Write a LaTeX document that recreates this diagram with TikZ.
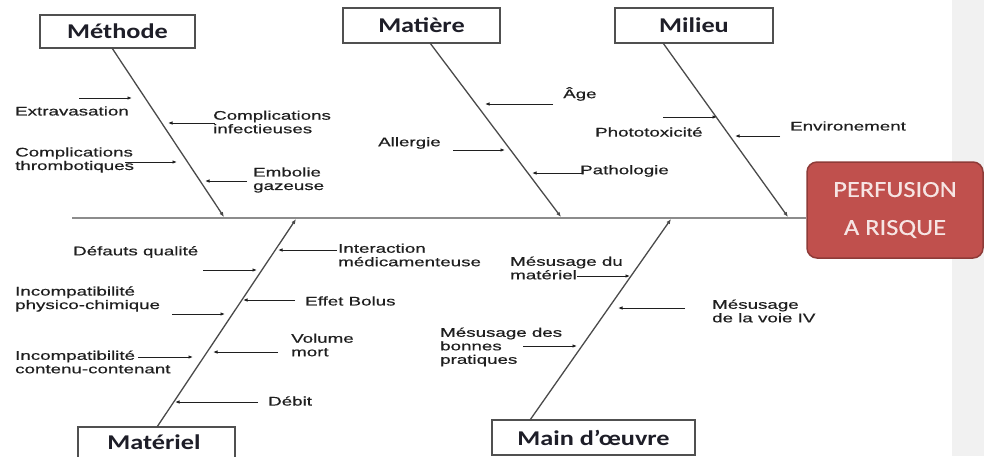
\documentclass[tikz,border=0pt]{standalone}
\usepackage{fontspec}
\usetikzlibrary{arrows.meta}
\newfontfamily\labf[FakeStretch=1.50,FakeBold=0.5]{Liberation Sans}
\newfontfamily\catf[FakeStretch=1.25]{Carlito}
\newfontfamily\redf[FakeStretch=1.15,FakeBold=0.4]{Carlito}
\definecolor{labc}{HTML}{1F1F1F}
\definecolor{boxc}{HTML}{505050}
\definecolor{catc}{HTML}{1E1E28}
\definecolor{branchc}{HTML}{4A4A4A}
\definecolor{spinec}{HTML}{8C8C8C}
\definecolor{bandc}{HTML}{F1F1F1}
\definecolor{redfill}{HTML}{C0504D}
\definecolor{redline}{HTML}{8E3B38}
\definecolor{redtext}{HTML}{F6E4E3}
\begin{document}
\begin{tikzpicture}[x=1pt,y=-1pt,
  lab/.style={font=\labf\fontsize{12.5}{13.5}\selectfont, align=left, anchor=west, inner sep=0pt, text=labc},
  cat/.style={draw=boxc, line width=1.5pt, fill=white, text=catc, font=\catf\bfseries\fontsize{21}{24}\selectfont, inner sep=0pt},
  branch/.style={draw=branchc, line width=1.3pt, -{Latex[length=5pt,width=4pt]}},
  spine/.style={draw=spinec, line width=2pt},
  sub/.style={draw=labc, line width=0.9pt, -{Latex[length=4.5pt,width=3.5pt]}}
]
\useasboundingbox (0,0) rectangle (984,456);
\clip (0,0) rectangle (984,456);
\fill[bandc] (952,0) rectangle (984,456);

% category boxes
\node[cat, minimum width=155pt, minimum height=33pt] (meth) at (117.5,31.5) {Méthode};
\node[cat, minimum width=157pt, minimum height=35pt] (mati) at (421.5,25.5) {Matière};
\node[cat, minimum width=158pt, minimum height=35pt] (mili) at (694,25.5) {Milieu};
\node[cat, minimum width=157pt, minimum height=38pt, text height=13pt, text depth=0pt,
      yshift=0pt] (mate) at (156.5,446) {};
\node[text=catc, font=\catf\bfseries\fontsize{21}{24}\selectfont, inner sep=0pt] (matet) at (154,442) {Matériel};
\node[cat, minimum width=203pt, minimum height=35pt] (main) at (593.5,437.5) {Main d’œuvre};

% effect box
\node[draw=redline, fill=redfill, line width=1.5pt, rounded corners=10pt,
      minimum width=176pt, minimum height=96pt, text=redtext, align=center,
      font=\redf\fontsize{23}{38}\selectfont] (eff) at (895,210) {PERFUSION\\A RISQUE};

% spine
\coordinate (spstart) at (72,218);
\draw[spine] (spstart) -- (spstart -| eff.west);

% branch end points
\coordinate (mthtop) at (112,48);   \coordinate (mthend) at (224,217);
\coordinate (mattop) at (430,43);   \coordinate (matend) at (561,217);
\coordinate (miltop) at (663,43);   \coordinate (milend) at (788,217);
\coordinate (mtlbot) at (157,427);  \coordinate (mtlend) at (296,219);
\coordinate (mobot) at (530,420);   \coordinate (moend) at (671,219);
\draw[branch] (mthtop) -- (mthend);
\draw[branch] (mattop) -- (matend);
\draw[branch] (miltop) -- (milend);
\draw[branch] (mtlbot) -- (mtlend);
\draw[branch] (mobot) -- (moend);

% labels
\node[lab] (extra) at (15,111) {Extravasation};
\node[lab] (infec) at (213,122) {Complications\\infectieuses};
\node[lab] (throm) at (15,160) {Complications\\thrombotiques};
\node[lab] (embol) at (253,180) {Embolie\\gazeuse};
\node[lab] (age) at (563,94) {Âge};
\node[lab] (aller) at (378,143) {Allergie};
\node[lab] (patho) at (580,171) {Pathologie};
\node[lab] (photo) at (595,132) {Phototoxicité};
\node[lab] (envir) at (790,126) {Environement};
\node[lab] (defau) at (73,252) {Défauts qualité};
\node[lab] (inter) at (338,255) {Interaction\\médicamenteuse};
\node[lab] (physi) at (15,299) {Incompatibilité\\physico-chimique};
\node[lab] (bolus) at (305,301) {Effet Bolus};
\node[lab] (volum) at (291,345) {Volume\\mort};
\node[lab] (conte) at (15,362) {Incompatibilité\\contenu-contenant};
\node[lab] (debit) at (268,401) {Débit};
\node[lab] (mesma) at (510,268) {Mésusage du\\matériel};
\node[lab] (voie) at (712,311) {Mésusage\\de la voie IV};
\node[lab] (bonne) at (440,347) {Mésusage des\\bonnes\\pratiques};

% sub-cause arrows
\coordinate (a1s) at (79,98);   \coordinate (a1e) at (132,98);
\coordinate (a2s) at (215,123); \coordinate (a2e) at (168,123);
\coordinate (a3s) at (125,162); \coordinate (a3e) at (177,162);
\coordinate (a4s) at (247,181); \coordinate (a4e) at (205,181);
\coordinate (a5s) at (553,104); \coordinate (a5e) at (485,104);
\coordinate (a6s) at (453,150); \coordinate (a6e) at (505,150);
\coordinate (a7s) at (582,173); \coordinate (a7e) at (532,173);
\coordinate (a8s) at (663,117); \coordinate (a8e) at (717,117);
\coordinate (a9s) at (780,136); \coordinate (a9e) at (735,136);
\coordinate (b1s) at (337,250); \coordinate (b1e) at (278,250);
\coordinate (b2s) at (203,270); \coordinate (b2e) at (257,270);
\coordinate (b3s) at (172,314); \coordinate (b3e) at (225,314);
\coordinate (b4s) at (295,300); \coordinate (b4e) at (243,300);
\coordinate (b5s) at (278,352); \coordinate (b5e) at (213,352);
\coordinate (b6s) at (138,357); \coordinate (b6e) at (193,357);
\coordinate (b7s) at (258,402); \coordinate (b7e) at (175,402);
\coordinate (c1s) at (577,276); \coordinate (c1e) at (630,276);
\coordinate (c2s) at (685,308); \coordinate (c2e) at (618,308);
\coordinate (c3s) at (523,346); \coordinate (c3e) at (577,346);
\foreach \p in {a1,a2,a3,a4,a5,a6,a7,a8,a9,b1,b2,b3,b4,b5,b6,b7,c1,c2,c3}
  \draw[sub] (\p s) -- (\p e);
\end{tikzpicture}
\end{document}
